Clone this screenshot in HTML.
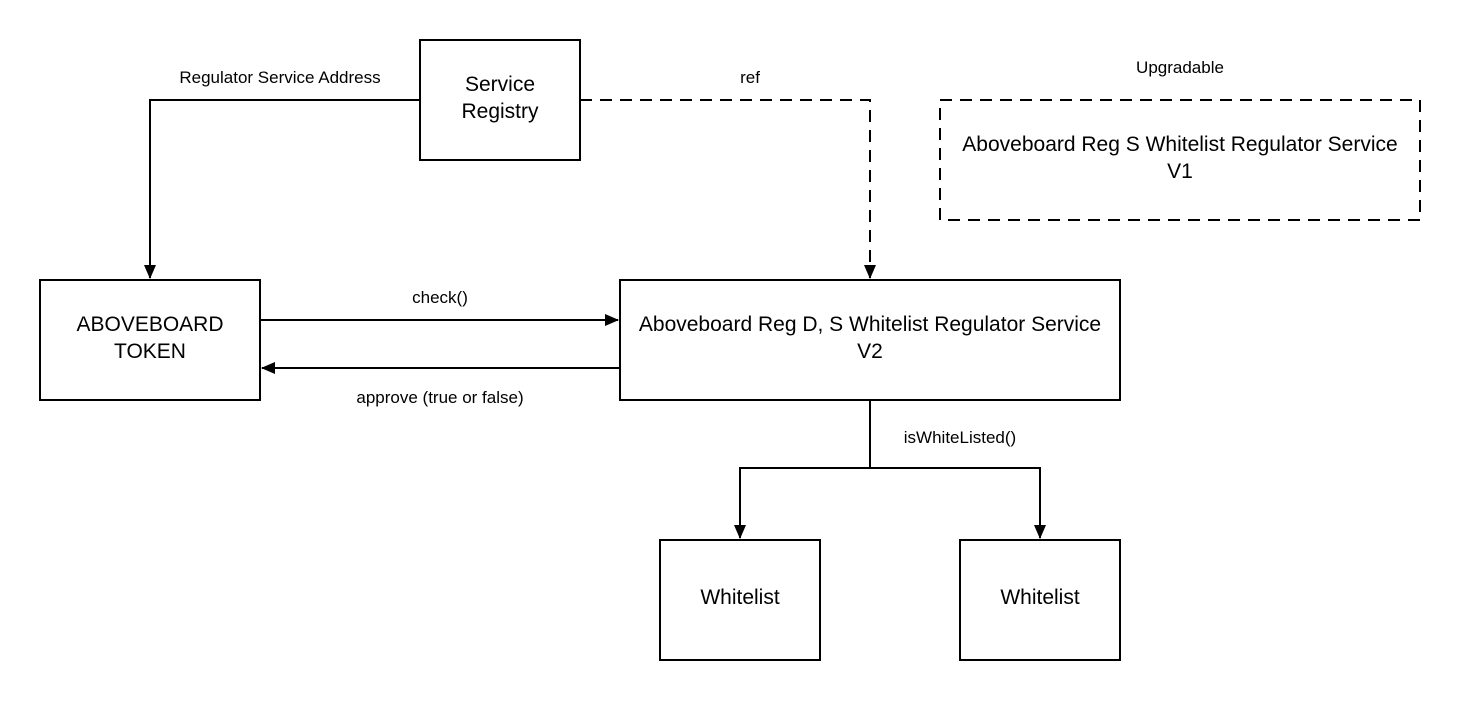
<!DOCTYPE html>
<html><head><meta charset="utf-8"><style>html,body{margin:0;padding:0;background:#fff}</style></head>
<body>
<svg width="1460" height="700" viewBox="0 0 1460 700" xmlns="http://www.w3.org/2000/svg" font-family="Liberation Sans, Arial, sans-serif">
<defs>
<marker id="a" markerWidth="14" markerHeight="14" refX="13" refY="6" orient="auto" markerUnits="userSpaceOnUse" viewBox="0 0 14 12">
<path d="M0,0 L14,6 L0,12 z" fill="#000"/></marker>
</defs>
<g fill="none" stroke="#000" stroke-width="2">
<rect x="420" y="40" width="160" height="120"/>
<rect x="40" y="280" width="220" height="120"/>
<rect x="620" y="280" width="500" height="120"/>
<rect x="940" y="100" width="480" height="120" stroke-dasharray="12,8"/>
<rect x="660" y="540" width="160" height="120"/>
<rect x="960" y="540" width="160" height="120"/>
<path d="M420,100 H150 V278" marker-end="url(#a)"/>
<path d="M580,100 H870 V278" stroke-dasharray="12,8" marker-end="url(#a)"/>
<path d="M260,320 H618" marker-end="url(#a)"/>
<path d="M620,368 H262" marker-end="url(#a)"/>
<path d="M870,400 V468"/>
<path d="M870,468 H740 V538" marker-end="url(#a)"/>
<path d="M870,468 H1040 V538" marker-end="url(#a)"/>
</g>
<g font-size="21" text-anchor="middle" fill="#000">
<text x="500" y="91">Service</text><text x="500" y="118">Registry</text>
<text x="150" y="331">ABOVEBOARD</text><text x="150" y="358">TOKEN</text>
<text x="870" y="331">Aboveboard Reg D, S Whitelist Regulator Service</text><text x="870" y="358">V2</text>
<text x="1180" y="151">Aboveboard Reg S Whitelist Regulator Service</text><text x="1180" y="178">V1</text>
<text x="740" y="604">Whitelist</text>
<text x="1040" y="604">Whitelist</text>
</g>
<g font-size="17" text-anchor="middle" fill="#000">
<text x="280" y="83">Regulator Service Address</text>
<text x="750" y="83">ref</text>
<text x="1180" y="73">Upgradable</text>
<text x="440" y="303">check()</text>
<text x="440" y="403">approve (true or false)</text>
<text x="960" y="443">isWhiteListed()</text>
</g>
</svg>
</body></html>
